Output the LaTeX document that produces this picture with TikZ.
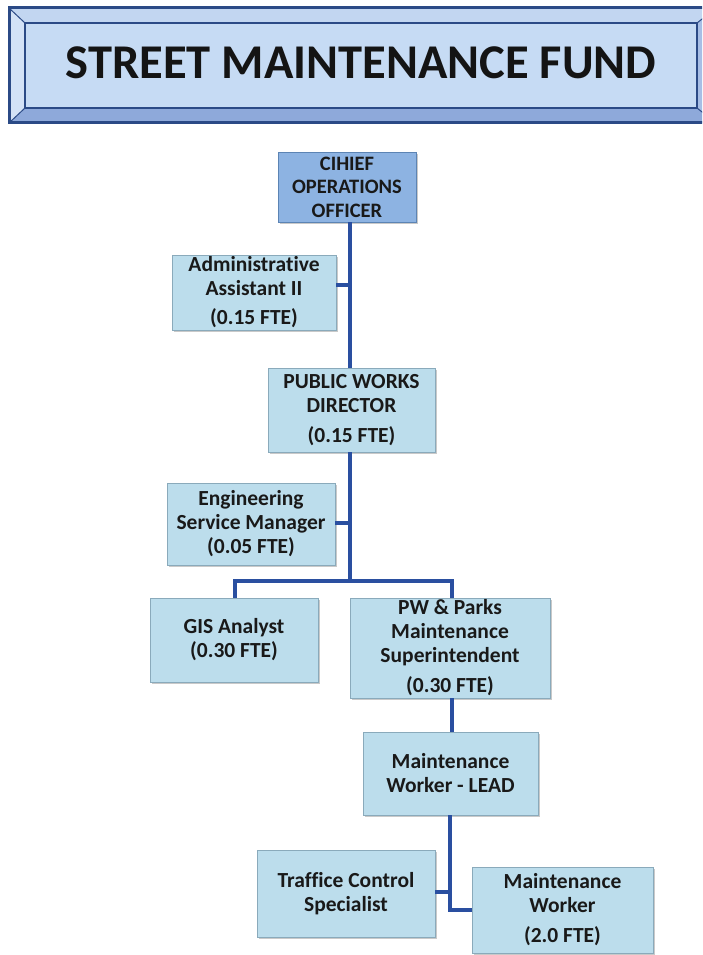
\documentclass[tikz,border=0pt]{standalone}
\usepackage{fontspec}
\setmainfont{Carlito}[Ligatures=NoCommon]
\usetikzlibrary{shadows}
\definecolor{boxfill}{HTML}{BCDDEC}
\definecolor{boxedge}{HTML}{8AAABB}
\definecolor{chieffill}{HTML}{8DB3E2}
\definecolor{chiefedge}{HTML}{5C84B4}
\definecolor{linkblue}{HTML}{2A4FA0}
\definecolor{framedark}{HTML}{2B4A86}
\definecolor{bevtop}{HTML}{C2D6F1}
\definecolor{bevleft}{HTML}{D3E2F6}
\definecolor{bevbot}{HTML}{8EA9DA}
\definecolor{bevright}{HTML}{A7BEE5}
\definecolor{titlefill}{HTML}{C6DBF4}
\tikzset{
  orgbox/.style={rectangle, draw=boxedge, line width=0.8pt, fill=boxfill,
    align=center, inner sep=0pt, text=black!90,
    font=\bfseries\fontsize{21.5}{24}\selectfont,
    drop shadow={shadow xshift=1.5pt, shadow yshift=-2pt, opacity=0.35, fill=black!60}},
  chiefbox/.style={orgbox, fill=chieffill, draw=chiefedge, font=\bfseries\fontsize{20.5}{23.5}\selectfont},
  link/.style={draw=linkblue, line width=3.5pt},
}
\begin{document}
\begin{tikzpicture}[x=1pt,y=-1pt]
\useasboundingbox (0,0) rectangle (702,955);
\fill[white] (0,0) rectangle (702,955);
% title banner
\begin{scope}
\clip (0,0) rectangle (702,140);
\fill[bevtop] (9,8) -- (716,8) -- (697,23) -- (25,23) -- cycle;
\fill[bevleft] (9,8) -- (25,23) -- (25,108) -- (9,123) -- cycle;
\fill[bevbot] (9,123) -- (25,108) -- (697,108) -- (716,123) -- cycle;
\fill[bevright] (716,8) -- (697,23) -- (697,108) -- (716,123) -- cycle;
\draw[framedark, line width=1pt] (9,8) -- (25,23) (9,123) -- (25,108) (716,8) -- (697,23) (716,123) -- (697,108);
\draw[framedark, line width=3pt] (9,8) rectangle (716,123);
\draw[framedark, line width=2.5pt, fill=titlefill] (25,23) rectangle (697,108);
\end{scope}
\node[font=\bfseries\fontsize{48.5}{56}\selectfont, text=black!92, inner sep=0pt] (title) at (361,63) {STREET MAINTENANCE FUND};
% boxes
\node[chiefbox, minimum width=138pt, minimum height=70pt] (chief) at (347,187) {CIHIEF\\OPERATIONS\\OFFICER};
\node[orgbox, minimum width=164pt, minimum height=75pt] (admin) at (254,292.5) {Administrative\\Assistant II\\[5pt](0.15 FTE)};
\node[orgbox, minimum width=167pt, minimum height=84pt] (pwd) at (351.5,410) {PUBLIC WORKS\\DIRECTOR\\[6pt](0.15 FTE)};
\node[orgbox, minimum width=168pt, minimum height=82pt] (esm) at (251,524) {Engineering\\Service Manager\\(0.05 FTE)};
\node[orgbox, minimum width=168pt, minimum height=84pt] (gis) at (234,640) {GIS Analyst\\(0.30 FTE)};
\node[orgbox, minimum width=200pt, minimum height=100pt] (pws) at (450,648) {PW \& Parks\\Maintenance\\Superintendent\\[6pt](0.30 FTE)};
\node[orgbox, minimum width=175pt, minimum height=83pt] (lead) at (450.5,773.5) {Maintenance\\Worker - LEAD};
\node[orgbox, minimum width=178pt, minimum height=87pt] (tcs) at (346,893.5) {Traffice Control\\Specialist};
\node[orgbox, minimum width=181pt, minimum height=86pt] (mw) at (562.5,910) {Maintenance\\Worker\\[6pt](2.0 FTE)};
% connector points
\coordinate (j1) at (350,285);
\coordinate (j2) at (350,523);
\coordinate (jbar) at (350,581);
\coordinate (bl) at (235,581);
\coordinate (br) at (452,581);
\coordinate (j3) at (450,892);
\coordinate (j4) at (450,910);
% connectors
\draw[link] (chief.south -| j1) -- (pwd.north -| j1);
\draw[link] (admin.east |- j1) -- (j1);
\draw[link] (pwd.south -| jbar) -- (jbar);
\draw[link] (esm.east |- j2) -- (j2);
\draw[link] (gis.north -| bl) -- (bl) -- (br) -- (pws.north -| br);
\draw[link] (pws.south -| br) -- (lead.north -| br);
\draw[link] (lead.south -| j4) -- (j4) -- (mw.west |- j4);
\draw[link] (tcs.east |- j3) -- (j3);
\end{tikzpicture}
\end{document}
